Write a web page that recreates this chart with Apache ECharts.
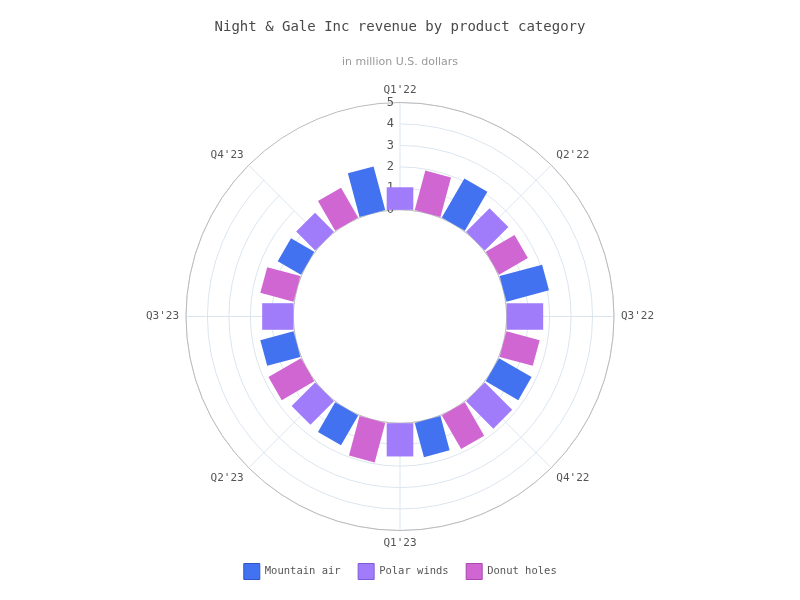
<!DOCTYPE html>
<html>
<head>
<meta charset="utf-8">
<script src="https://cdn.jsdelivr.net/npm/echarts@6/dist/echarts.min.js"></script>
<style>
  html, body { margin: 0; padding: 0; background: #fff; }
  #chart { width: 800px; height: 600px; }
</style>
</head>
<body>
<div id="chart"></div>
<script>
const quarters = ["Q1'22", "Q2'22", "Q3'22", "Q4'22", "Q1'23", "Q2'23", "Q3'23", "Q4'23"];
const mountainAir = [2.1, 2.1, 2.05, 1.75, 1.65, 1.6, 1.6, 1.25];
const polarWinds = [1.05, 1.55, 1.7, 1.8, 1.55, 1.55, 1.45, 1.25];
const donutHoles = [1.9, 1.55, 1.6, 1.8, 1.9, 1.75, 1.6, 1.6];
const radiusTicks = [0, 1, 2, 3, 4, 5];

const mono = 'DejaVu Sans Mono';
const halfWidth = 13.3;
const step = 15 * Math.PI / 180;

// rectangles standing on the inner ring, shifted by one step per series
function barRenderer(shift) {
  return (params, api) => {
    const cs = params.coordSys;
    const cat = api.value(1);
    const p0 = api.coord([0, cat]);
    const p1 = api.coord([api.value(0), cat]);
    const a = Math.atan2(p0[1] - cs.cy, p0[0] - cs.cx) + shift * step;
    const r0 = Math.hypot(p0[0] - cs.cx, p0[1] - cs.cy);
    const r1 = Math.hypot(p1[0] - cs.cx, p1[1] - cs.cy);
    const ux = Math.cos(a), uy = Math.sin(a);
    const vx = -uy, vy = ux;
    const pt = (r, s) => [cs.cx + ux * r + vx * s * halfWidth, cs.cy + uy * r + vy * s * halfWidth];
    return {
      type: 'polygon',
      shape: { points: [pt(r0, -1), pt(r1, -1), pt(r1, 1), pt(r0, 1)] },
      style: api.style()
    };
  };
}

const chart = echarts.init(document.getElementById('chart'));

chart.setOption({
  animation: false,
  title: [
    {
      text: 'Night & Gale Inc revenue by product category',
      left: 'center',
      top: 15,
      textStyle: { fontFamily: mono, fontSize: 14, fontWeight: 'normal', color: '#4a4a4a' }
    },
    {
      text: 'in million U.S. dollars',
      left: 'center',
      top: 52,
      textStyle: { fontFamily: 'DejaVu Sans', fontSize: 11, fontWeight: 'normal', color: '#999' }
    }
  ],
  legend: {
    bottom: 15,
    left: 'center',
    icon: 'rect',
    itemWidth: 16,
    itemHeight: 16,
    itemGap: 17,
    textStyle: { fontFamily: mono, fontSize: 10.5, color: '#555' },
    data: [
      { name: 'Mountain air', itemStyle: { borderColor: '#2f55c8', borderWidth: 1 } },
      { name: 'Polar winds', itemStyle: { borderColor: '#7e5ad8', borderWidth: 1 } },
      { name: 'Donut holes', itemStyle: { borderColor: '#a847ad', borderWidth: 1 } }
    ]
  },
  polar: {
    center: [400, 316.5],
    radius: [106.7, 214]
  },
  angleAxis: {
    type: 'category',
    data: quarters,
    startAngle: 90,
    boundaryGap: false,
    axisLine: { lineStyle: { color: '#bbb', width: 1 } },
    axisTick: { show: false },
    axisLabel: { fontFamily: mono, fontSize: 11, color: '#555', margin: 7 },
    splitLine: { show: true, lineStyle: { color: '#dbe5ef' } }
  },
  radiusAxis: {
    type: 'value',
    min: radiusTicks[0],
    max: radiusTicks[radiusTicks.length - 1],
    interval: 1,
    axisLine: { show: false },
    axisTick: { show: false },
    axisLabel: { fontFamily: mono, fontSize: 12, color: '#555', margin: 6 },
    splitLine: { show: true, lineStyle: { color: '#dbe5ef' } }
  },
  series: [
    {
      name: 'Mountain air',
      type: 'custom',
      coordinateSystem: 'polar',
      renderItem: barRenderer(-1),
      itemStyle: { color: '#4272ef' },
      encode: { radius: 0, angle: 1 },
      data: mountainAir.map((v, i) => [v, i])
    },
    {
      name: 'Polar winds',
      type: 'custom',
      coordinateSystem: 'polar',
      renderItem: barRenderer(0),
      itemStyle: { color: '#a07bfa' },
      encode: { radius: 0, angle: 1 },
      data: polarWinds.map((v, i) => [v, i])
    },
    {
      name: 'Donut holes',
      type: 'custom',
      coordinateSystem: 'polar',
      renderItem: barRenderer(1),
      itemStyle: { color: '#d066d2' },
      encode: { radius: 0, angle: 1 },
      data: donutHoles.map((v, i) => [v, i])
    }
  ]
});

window.addEventListener('resize', () => chart.resize());
</script>
</body>
</html>
